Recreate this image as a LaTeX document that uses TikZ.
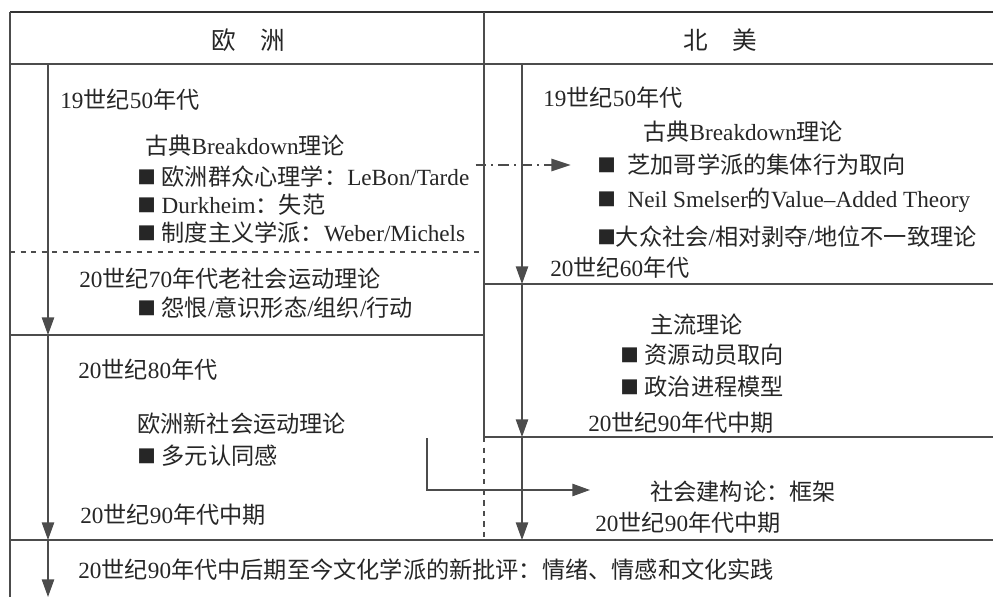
\documentclass[tikz,border=0pt]{standalone}
\usepackage{fontspec}
\usepackage{tikz}
\usetikzlibrary{arrows.meta}
\setmainfont{Liberation Serif}
\newfontfamily\cjk{Noto Sans CJK SC}
% CJK runs switch to the CJK font by themselves
\XeTeXinterchartokenstate=1
\newXeTeXintercharclass\cjkclass
\newcount\cjkc
\def\setcjkrange#1#2{\cjkc=#1 \loop\XeTeXcharclass\cjkc=\cjkclass \advance\cjkc by 1 \ifnum\cjkc<#2 \repeat}
\setcjkrange{"3000}{"3040}
\setcjkrange{"4E00}{"A000}
\setcjkrange{"FF00}{"FFF0}
\XeTeXinterchartoks 0 \cjkclass = {\begingroup\cjk}
\XeTeXinterchartoks 4095 \cjkclass = {\begingroup\cjk}
\XeTeXinterchartoks \cjkclass 0 = {\endgroup}
\XeTeXinterchartoks \cjkclass 4095 = {\endgroup}
% square bullet
\newcommand\sqb{\raisebox{-0.1ex}{\fontsize{17.5}{15}\selectfont ■}}

\tikzset{
  txt/.style={anchor=west, inner sep=0pt, text=black!85, font=\fontsize{13.2}{16}\selectfont},
  head/.style={inner sep=0pt, text=black!85, font=\fontsize{14}{16}\selectfont},
  ln/.style={draw=black!70, line width=0.8pt},
  tl/.style={ln, -{Triangle[length=10pt,width=7pt]}},
}

\begin{document}
\begin{tikzpicture}[x=0.02cm, y=-0.02cm]
    \useasboundingbox[fill=white] (0,0) rectangle (993,597);

      % frame
      \draw[draw=black!80, line width=1.4pt] (10,12) -- (993,12);
      \draw[ln] (10,12) -- (10,597);
      \draw[ln] (484,12) -- (484,437);
      \draw[ln] (10,64) -- (993,64);
      \draw[ln, dashed] (10,252) -- (484,252);
      \draw[ln] (10,335) -- (484,335);
      \draw[ln] (484,284) -- (993,284);
      \draw[ln] (484,437) -- (993,437);
      \draw[ln, dashed] (484,437) -- (484,540);
      \draw[ln] (10,540) -- (993,540);

      \node[head] (eu) at (248,40) {欧\quad 洲};
      \node[head] (na) at (720,40) {北\quad 美};

      % Europe
      \node[txt] (e50) at (60,100) {19世纪50年代};
      \node[txt] (ebd) at (145,146) {古典Breakdown理论};
      \node[txt] (lebon) at (137,177) {\sqb\ 欧洲群众心理学：LeBon/Tarde};
      \node[txt] (durk) at (137,205) {\sqb\ Durkheim：失范};
      \node[txt] (weber) at (137,233) {\sqb\ 制度主义学派：Weber/Michels};
      \node[txt] (e70) at (79,279) {20世纪70年代老社会运动理论};
      \node[txt] (old) at (137,308) {\sqb\ 怨恨/意识形态/组织/行动};
      \node[txt] (e80) at (78,370) {20世纪80年代};
      \node[txt] (nsm) at (137,424) {欧洲新社会运动理论};
      \node[txt] (ident) at (137,456) {\sqb\ 多元认同感};
      \node[txt] (e90) at (80,515) {20世纪90年代中期};

      % North America
      \node[txt] (n50) at (543,98) {19世纪50年代};
      \node[txt] (nbd) at (643,132) {古典Breakdown理论};
      \node[txt] (chi) at (597,165) {\sqb\ \ 芝加哥学派的集体行为取向};
      \node[txt] (smel) at (597,200) {\sqb\ \ Neil Smelser的Value–Added Theory};
      \node[txt] (mass) at (597,237) {\sqb 大众社会/相对剥夺/地位不一致理论};
      \node[txt] (n60) at (550,268) {20世纪60年代};
      \node[txt] (mainst) at (650,325) {主流理论};
      \node[txt] (res) at (620,355) {\sqb\ 资源动员取向};
      \node[txt] (pol) at (620,387) {\sqb\ 政治进程模型};
      \node[txt] (n90a) at (588,423) {20世纪90年代中期};
      \node[txt] (frame) at (650,492) {社会建构论：框架};
      \node[txt] (n90b) at (595,523) {20世纪90年代中期};

      \node[txt] (cult) at (78,570) {20世纪90年代中后期至今文化学派的新批评：情绪、情感和文化实践};

      % time lines
      \coordinate (l0) at (48,64);
      \coordinate (l1) at (48,335);
      \coordinate (l2) at (48,540);
      \coordinate (l3) at (48,597);
        \draw[tl] (l0) -- (l1);
        \draw[tl] (l1) -- (l2);
        \draw[tl] (l2) -- (l3);
      \coordinate (r0) at (522,64);
      \coordinate (r1) at (522,284);
      \coordinate (r2) at (522,437);
      \coordinate (r3) at (522,540);
        \draw[tl] (r0) -- (r1);
        \draw[tl] (r1) -- (r2);
        \draw[tl] (r2) -- (r3);

      % links
        \draw[ln, line width=1pt, dash pattern=on 6pt off 3pt on 1pt off 3pt, -{Triangle[length=11pt,width=7pt]}, shorten >=15]
          (lebon.east |- chi.west) ++(6,0) coordinate (dd) -- (chi.west);
      \coordinate (nsmb) at (427,438);
      \coordinate (frm) at (590,490);
        \draw[tl] (nsmb) |- (frm);

\end{tikzpicture}
\end{document}
